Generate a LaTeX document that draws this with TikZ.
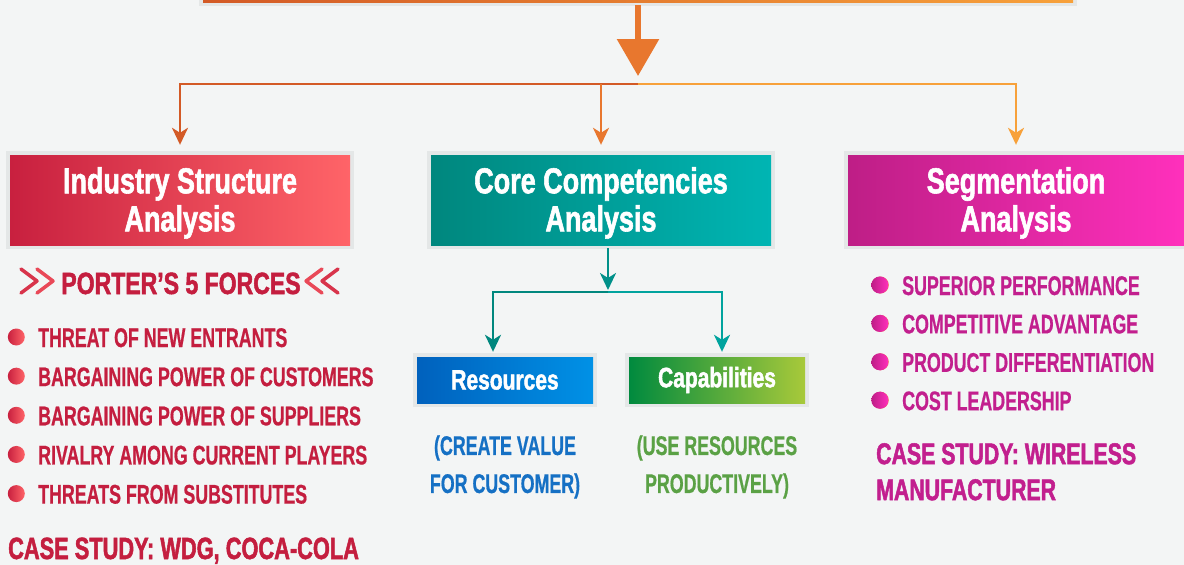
\documentclass[tikz,border=0pt]{standalone}
\usepackage{fontspec}
\usetikzlibrary{arrows.meta,positioning}
\newfontfamily\headfont{Liberation Sans Bold}[FakeStretch=0.75, FakeBold=1.6]
\newfontfamily\casefont{Liberation Sans Bold}[FakeStretch=0.71, FakeBold=1.6]
\newfontfamily\itemfont{Liberation Sans Bold}[FakeStretch=0.66, FakeBold=0.6]
\newcommand\headstrut{\rule{0pt}{32pt}}

\definecolor{bgcol}{HTML}{F3F5F5}
\definecolor{halo}{HTML}{E4E7E7}
\definecolor{or1}{HTML}{D35A26}
\definecolor{or2}{HTML}{E8772E}
\definecolor{or3}{HTML}{F7A13A}
\definecolor{red1}{HTML}{C8203F}
\definecolor{red2}{HTML}{FF6468}
\definecolor{teal1}{HTML}{00877E}
\definecolor{teal2}{HTML}{00B5B3}
\definecolor{mag1}{HTML}{BE1E86}
\definecolor{mag2}{HTML}{FF30BC}
\definecolor{blue1}{HTML}{0061BD}
\definecolor{blue2}{HTML}{0091E6}
\definecolor{green1}{HTML}{008A3E}
\definecolor{green2}{HTML}{A8C93A}
\definecolor{crimson}{HTML}{C41E3F}
\definecolor{magtext}{HTML}{C21F8E}
\definecolor{bluetext}{HTML}{1570C4}
\definecolor{greentext}{HTML}{5AA145}

\tikzset{
  box/.style={rectangle, inner sep=0pt, text=white, align=center,
    preaction={draw=halo, line width=8pt},
    font=\headfont\fontsize{36}{38}\selectfont},
  smallbox/.style={box, minimum width=176pt, minimum height=46pt,
    font=\headfont\fontsize{28}{30}\selectfont},
  olink/.style={line width=2.5pt, -{Stealth[length=17pt,width=16pt,inset=5pt]}, shorten >=10pt},
  tlink/.style={line width=2.5pt, -{Stealth[length=17pt,width=16pt,inset=5pt]}},
  bigarrow/.style={line width=6pt, or2, -{Triangle[length=37pt,width=41pt]}, shorten <=3pt},
  dot/.style={circle, minimum size=17pt, inner sep=0pt},
  litem/.style={anchor=base west, inner sep=0pt, text height=20pt, text depth=0pt,
    text=crimson, font=\itemfont\fontsize{27}{38}\selectfont,
    label={[dot, left color=red1, right color=red2, label distance=13pt]left:{}}},
  ritem/.style={litem, text=magtext,
    label={[dot, left color=mag1, right color=mag2, label distance=13.5pt]left:{}}},
  note/.style={inner sep=0pt, align=center, font=\itemfont\fontsize{27}{38}\selectfont},
  chev/.style={line width=3.5pt, line cap=round, line join=round},
}

\begin{document}
\begin{tikzpicture}[x=1pt, y=-1pt]
  \fill[bgcol] (0,0) rectangle (1184,565);
  \useasboundingbox (0,0) rectangle (1184,565);

  % boxes
  \node[box, left color=or1, right color=or3, minimum width=870pt, minimum height=32pt] (top) at (638,-14) {};
  \node[box, left color=red1, right color=red2, minimum width=340pt, minimum height=90pt] (isa) at (180,200) {\headstrut Industry Structure\\Analysis};
  \node[box, left color=teal1, right color=teal2, minimum width=340pt, minimum height=90pt] (cca) at (601,200) {\headstrut Core Competencies\\Analysis};
  \node[box, left color=mag1, right color=mag2, minimum width=336pt, minimum height=90pt] (seg) at (1016,200) {\headstrut Segmentation\\Analysis};
  \node[smallbox, left color=blue1, right color=blue2] (res) at (505,380) {Resources};
  \node[smallbox, left color=green1, right color=green2] (cap) at (717,380) {Capabilities};

  % orange links
  \coordinate (otip) at (638,76);
  \coordinate (ofork) at (638,84);
  \draw[bigarrow] (top.south) -- (otip);
  \draw[olink, or1] (ofork) -| (isa.north);
  \draw[olink, or2] (ofork -| cca.north) -- (cca.north);
  \draw[olink, or3] (ofork) -| (seg.north);

  % teal links
  \coordinate (tfork) at (608,292);
  \draw[tlink, teal1!80!teal2, shorten <=3pt, shorten >=2pt] ([xshift=7pt]cca.south) -- (tfork);
  \draw[tlink, teal1, shorten >=5pt] (tfork) -| ([xshift=-12pt]res.north);
  \draw[tlink, teal1!40!teal2, shorten >=5pt] (tfork) -| ([xshift=5pt]cap.north);

  % porter's forces
  \node[anchor=base, inner sep=0pt, text=crimson, font=\headfont\fontsize{30.7}{32}\selectfont] (porter) at (181,294) {PORTER’S 5 FORCES};
  \draw[chev, red1!70!red2] (21,269) -- (37,281) -- (21,293);
  \draw[chev, red1!40!red2] (37,269) -- (53,281) -- (37,293);
  \draw[chev, red1!40!red2] (322,269) -- (306,281) -- (322,293);
  \draw[chev, red1!70!red2] (338,269) -- (322,281) -- (338,293);

  % left list
  \node[litem] (l1) at (38,347) {THREAT OF NEW ENTRANTS};
  \node[litem, below=18.75pt of l1.south west, anchor=north west] (l2) {BARGAINING POWER OF CUSTOMERS};
  \node[litem, below=18.75pt of l2.south west, anchor=north west] (l3) {BARGAINING POWER OF SUPPLIERS};
  \node[litem, below=18.75pt of l3.south west, anchor=north west] (l4) {RIVALRY AMONG CURRENT PLAYERS};
  \node[litem, below=18.75pt of l4.south west, anchor=north west] (l5) {THREATS FROM SUBSTITUTES};
  \node[anchor=base west, inner sep=0pt, text=crimson, font=\casefont\fontsize{30.7}{36}\selectfont] (lcase) at (8,559) {CASE STUDY: WDG, COCA-COLA};

  % notes under resources and capabilities
  \node[note, text=bluetext] (resnote) at (505,467) {(CREATE VALUE\\FOR CUSTOMER)};
  \node[note, text=greentext] (capnote) at (717,467) {(USE RESOURCES\\PRODUCTIVELY)};

  % right list
  \node[ritem] (r1) at (902,295) {SUPERIOR PERFORMANCE};
  \node[ritem, below=18pt of r1.south west, anchor=north west] (r2) {COMPETITIVE ADVANTAGE};
  \node[ritem, below=18pt of r2.south west, anchor=north west] (r3) {PRODUCT DIFFERENTIATION};
  \node[ritem, below=18pt of r3.south west, anchor=north west] (r4) {COST LEADERSHIP};
  \node[anchor=north west, inner sep=0pt, align=left, text=magtext, font=\casefont\fontsize{30}{36}\selectfont] (rcase) at (876,443) {CASE STUDY: WIRELESS\\MANUFACTURER};
\end{tikzpicture}
\end{document}
